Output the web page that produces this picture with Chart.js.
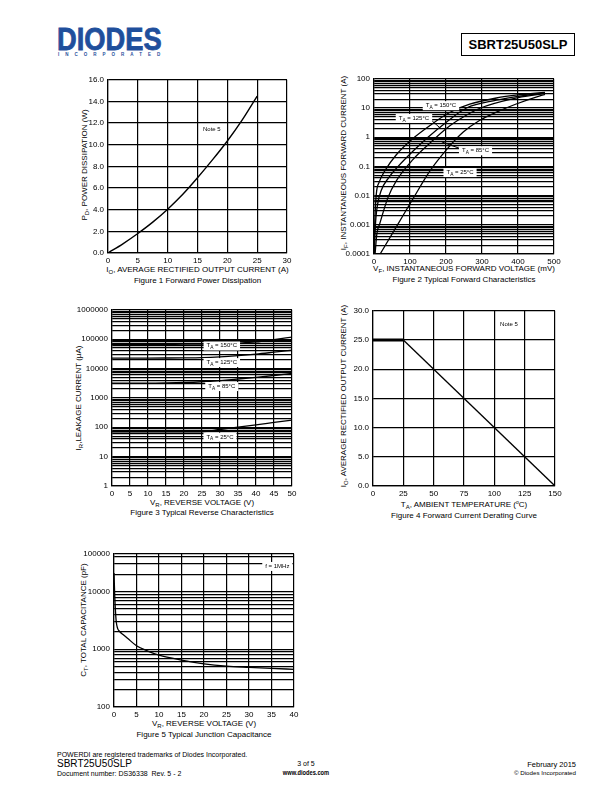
<!DOCTYPE html>
<html>
<head>
<meta charset="utf-8">
<title>SBRT25U50SLP</title>
<script src="https://cdn.jsdelivr.net/npm/chart.js@4.4.1/dist/chart.umd.min.js"></script>
<style>
	body { margin: 0; background: #fff; font-family: "Liberation Sans", Arial, sans-serif; color: #000; }
	#page { position: relative; width: 612px; height: 792px; overflow: hidden; }
	.t { position: absolute; white-space: nowrap; line-height: 1; font-size: 8px; }
	.c { transform: translateX(-50%); }
	.r90 { transform: translate(-50%, -50%) rotate(-90deg); }
	.rt { text-align: right; }
	canvas { position: absolute; }
	sub { font-size: 6px; vertical-align: -2px; line-height: 0; }
	sup { font-size: 5px; vertical-align: 3px; line-height: 0; }
	#logo { position: absolute; left: 57px; top: 24px; font-size: 31px; font-weight: bold; color: #1f4f9c; line-height: 31px; transform: scaleX(0.88); transform-origin: left top; -webkit-text-stroke: 0.8px #1f4f9c; }
	#inc { position: absolute; left: 58px; top: 53px; font-size: 4.5px; font-weight: bold; color: #1f4f9c; letter-spacing: 6px; line-height: 1; }
	#part { position: absolute; left: 461px; top: 33px; width: 112px; height: 21px; border: 1px solid #000; font-size: 13px; font-weight: bold; text-align: center; line-height: 22px; }
</style>
</head>
<body>
<div id="page">
	<div id="logo">DIODES</div>
	<div id="inc">INCORPORATED</div>
	<div id="part">SBRT25U50SLP</div>

	<!-- figure 1 -->
	<div class="t r90" style="left:85px;top:165px">P<sub>D</sub>, POWER DISSIPATION (W)</div>
	<div class="t c" style="left:197.5px;top:266px">I<sub>O</sub>, AVERAGE RECTIFIED OUTPUT CURRENT (A)</div>
	<div class="t c" style="left:197.5px;top:277px">Figure 1 Forward Power Dissipation</div>

	<!-- figure 2 -->
	<div class="t r90" style="left:344px;top:163px">I<sub>F</sub>, INSTANTANEOUS FORWARD CURRENT (A)</div>
	<div class="t c" style="left:464px;top:265px">V<sub>F</sub>, INSTANTANEOUS FORWARD VOLTAGE (mV)</div>
	<div class="t c" style="left:464px;top:275.5px">Figure 2 Typical Forward Characteristics</div>

	<!-- figure 3 -->
	<div class="t r90" style="left:79px;top:398px">I<sub>R</sub>,LEAKAGE CURRENT (μA)</div>
	<div class="t c" style="left:202px;top:499px">V<sub>R</sub>, REVERSE VOLTAGE (V)</div>
	<div class="t c" style="left:202px;top:508.5px">Figure 3 Typical Reverse Characteristics</div>

	<!-- figure 4 -->
	<div class="t r90" style="left:344px;top:396px">I<sub>O</sub>, AVERAGE RECTIFIED OUTPUT CURRENT (A)</div>
	<div class="t c" style="left:464px;top:501px">T<sub>A</sub>, AMBIENT TEMPERATURE (<sup>o</sup>C)</div>
	<div class="t c" style="left:464px;top:512px">Figure 4 Forward Current Derating Curve</div>

	<!-- figure 5 -->
	<div class="t r90" style="left:84px;top:620px">C<sub>T</sub>, TOTAL CAPACITANCE (pF)</div>
	<div class="t c" style="left:204px;top:720px">V<sub>R</sub>, REVERSE VOLTAGE (V)</div>
	<div class="t c" style="left:204px;top:731px">Figure 5 Typical Junction Capacitance</div>

	<!-- footer -->
	<div class="t" style="left:57px;top:750.5px;font-size:7px">POWERDI are registered trademarks of Diodes Incorporated.</div>
	<div class="t" style="left:57px;top:758.5px;font-size:10px">SBRT25U50SLP</div>
	<div class="t" style="left:57px;top:770px;font-size:7px">Document number: DS36338&nbsp; Rev. 5 - 2</div>
	<div class="t c" style="left:306px;top:759.5px;font-size:7px">3 of 5</div>
	<div class="t" style="left:306px;top:768.5px;font-size:7.5px;font-weight:bold;transform:translateX(-50%) scaleX(0.76)">www.diodes.com</div>
	<div class="t rt" style="right:36px;top:761px;font-size:7.5px">February 2015</div>
	<div class="t rt" style="right:36px;top:770px;font-size:6.2px">© Diodes Incorporated</div>
</div>

<script>
// Figure 1 - forward power dissipation
const fpdCurrent = [0, 2.5, 5, 7.5, 10, 12.5, 15, 17.5, 20, 22.5, 25];
const fpdPower = [0, 0.85, 1.8, 2.85, 4.05, 5.4, 6.95, 8.6, 10.35, 12.3, 14.5];

// Figure 2 - forward characteristics, VF in mV, IF in A
const vf150 = [0, 2, 6, 15, 30, 62, 108, 155, 210, 266, 340, 400, 475];
const if150 = [0.0001, 0.001, 0.01, 0.03, 0.07, 0.25, 0.9, 2.5, 7, 13.5, 22, 28, 34];
const vf125 = [1, 4, 10, 20, 40, 67, 108, 150, 200, 257, 340, 400, 470];
const if125 = [0.0001, 0.001, 0.005, 0.015, 0.04, 0.1, 0.33, 1, 3.2, 10, 18.5, 25, 32];
const vf85 = [3, 8, 16, 39, 62, 108, 155, 201, 248, 294, 387, 470];
const if85 = [0.0001, 0.0005, 0.0011, 0.0087, 0.032, 0.17, 0.62, 2.0, 4.9, 9.8, 21, 31];
const vf25 = [17, 62, 108, 155, 201, 248, 294, 340, 395, 461, 475];
const if25 = [0.0001, 0.00085, 0.0077, 0.069, 0.37, 1.5, 3.8, 7.2, 13.7, 26, 29];
const fwdTicks = [0.0001, 0.001, 0.01, 0.1, 1, 10, 100];
const fwdTickLabels = ['0.0001', '0.001', '0.01', '0.1', '1', '10', '100'];

// Figure 3 - reverse characteristics, VR in V, IR in uA
const vrLeak = [0, 5, 10, 15, 20, 25, 30, 35, 40, 45, 50];
const ir150 = [67000, 67000, 67000, 67000, 67500, 67500, 68500, 73000, 80500, 97000, 118000];
const ir125 = [22700, 22700, 22700, 22800, 23000, 23500, 25000, 27500, 31000, 36000, 42000];
const ir85 = [3200, 3200, 3200, 3250, 3350, 3550, 3900, 4400, 5000, 5800, 6800];
const ir25 = [70, 70, 70, 70, 70, 70, 84, 101, 121, 146, 176];
const revTicks = [1, 10, 100, 1000, 10000, 100000, 1000000];
const revTickLabels = ['1', '10', '100', '1000', '10000', '100000', '1000000'];

// Figure 4 - derating
const derTemp = [0, 25, 150];
const derCurrent = [25, 25, 0];

// Figure 5 - junction capacitance, VR in V, CT in pF
const capVolt = [0, 0.15, 0.3, 0.5, 0.8, 1.2, 2, 3, 5, 7.5, 10, 15, 20, 25, 30, 35, 40];
const capPf = [21000, 9000, 5000, 3000, 2300, 2050, 1800, 1550, 1150, 930, 790, 650, 560, 510, 485, 465, 450];
const capTicks = [100, 1000, 10000];
const capTickLabels = ['100', '1000', '10000'];
const capTop = 45000; // top edge of the printed axis
const capTopLabel = '100000';

const FONT = '"Liberation Sans", Arial, sans-serif';
Chart.defaults.font.family = FONT;
Chart.defaults.font.size = 8;
Chart.defaults.color = '#000';
Chart.defaults.animation = false;

const PAD_L = 40, PAD_T = 6, PAD_R = 12, PAD_B = 14;

function xy(xs, ys) {
	return xs.map((x, i) => ({x: x, y: ys[i]}));
}

function logGrid(min, max) {
	const out = [];
	for (let e = Math.floor(Math.log10(min)); e <= Math.ceil(Math.log10(max)); e++) {
		for (let m = 1; m < 10; m++) {
			const v = m * Math.pow(10, e);
			if (v >= min * 0.9999 && v <= max * 1.0001) out.push(v);
		}
	}
	if (Math.abs(out[out.length - 1] - max) > max * 0.0001) out.push(max);
	return out;
}

function findLabel(v, vals, labels) {
	for (let i = 0; i < vals.length; i++) {
		if (Math.abs(Math.log10(v) - Math.log10(vals[i])) < 1e-6) return labels[i];
	}
	return '';
}

function gridOpts() {
	return {color: '#000', lineWidth: 1.2, drawTicks: false};
}
function borderOpts() {
	return {color: '#000', width: 1.2};
}

function linX(min, max, step) {
	return {
		type: 'linear', min: min, max: max,
		grid: gridOpts(), border: borderOpts(),
		ticks: {stepSize: step, padding: 3, autoSkip: false, maxRotation: 0},
		afterFit: s => { s.height = PAD_B; }
	};
}
function linY(min, max, step) {
	return {
		type: 'linear', min: min, max: max,
		grid: gridOpts(), border: borderOpts(),
		ticks: {stepSize: step, padding: 4, autoSkip: false, callback: v => v.toFixed(1)},
		afterFit: s => { s.width = PAD_L; }
	};
}
function logY(min, max, vals, labels) {
	return {
		type: 'logarithmic', min: min, max: max,
		grid: gridOpts(), border: borderOpts(),
		afterBuildTicks: s => { s.ticks = logGrid(min, max).map(v => ({value: v})); },
		ticks: {padding: 4, autoSkip: false, callback: v => findLabel(v, vals, labels)},
		afterFit: s => { s.width = PAD_L; }
	};
}

function curve(points, width) {
	return {
		data: points, borderColor: '#000', borderWidth: width || 1.3,
		pointRadius: 0, cubicInterpolationMode: 'monotone', clip: 0, fill: false
	};
}

// small text notes with optional white box, "_X" marks a subscript letter
function drawNote(ctx, text, x, y, size, pad) {
	const parts = [];
	const bits = text.split('_');
	parts.push([bits[0], false]);
	for (let i = 1; i < bits.length; i++) {
		parts.push([bits[i].charAt(0), true]);
		parts.push([bits[i].slice(1), false]);
	}
	const fMain = size + 'px ' + FONT, fSub = (size * 0.8) + 'px ' + FONT;
	let w = 0;
	parts.forEach(p => { ctx.font = p[1] ? fSub : fMain; w += ctx.measureText(p[0]).width; });
	let cx = x - w / 2;
	if (pad !== undefined) {
		ctx.fillStyle = '#fff';
		ctx.fillRect(cx - pad, y - size * 0.7, w + 2 * pad, size * 1.5);
	}
	ctx.fillStyle = '#000';
	ctx.textBaseline = 'middle';
	ctx.textAlign = 'left';
	parts.forEach(p => {
		ctx.font = p[1] ? fSub : fMain;
		ctx.fillText(p[0], cx, y + (p[1] ? size * 0.35 : 0));
		cx += ctx.measureText(p[0]).width;
	});
}

const notesPlugin = {
	id: 'notes',
	afterDatasetsDraw(chart, args, opts) {
		const ctx = chart.ctx, xs = chart.scales.x, ys = chart.scales.y;
		ctx.save();
		(opts.arrows || []).forEach(a => {
			ctx.strokeStyle = '#000';
			ctx.lineWidth = 1;
			ctx.beginPath();
			ctx.moveTo(xs.getPixelForValue(a[0]), ys.getPixelForValue(a[1]));
			ctx.lineTo(xs.getPixelForValue(a[2]), ys.getPixelForValue(a[3]));
			ctx.stroke();
		});
		(opts.items || []).forEach(n => {
			drawNote(ctx, n.text, xs.getPixelForValue(n.x), ys.getPixelForValue(n.y), n.size || 6, n.pad);
		});
		ctx.restore();
	}
};

function makeChart(plot, datasets, scales, notes) {
	const cv = document.createElement('canvas');
	const W = plot.w + PAD_L + PAD_R, H = plot.h + PAD_T + PAD_B;
	cv.width = W;
	cv.height = H;
	cv.style.left = (plot.l - PAD_L) + 'px';
	cv.style.top = (plot.t - PAD_T) + 'px';
	cv.style.width = W + 'px';
	cv.style.height = H + 'px';
	document.getElementById('page').appendChild(cv);
	return new Chart(cv, {
		type: 'line',
		data: {datasets: datasets},
		options: {
			responsive: false,
			layout: {padding: {left: 0, top: PAD_T, right: PAD_R, bottom: 0}},
			scales: scales,
			plugins: {legend: {display: false}, tooltip: {enabled: false}, notes: notes || {}}
		},
		plugins: [notesPlugin]
	});
}

// Figure 1
makeChart({l: 108, t: 77, w: 179, h: 176},
	[curve(xy(fpdCurrent, fpdPower), 1.4)],
	{x: linX(0, 30, 5), y: linY(0, 16, 2)},
	{items: [{text: 'Note 5', x: 17.4, y: 11.4}]});

// Figure 2
makeChart({l: 374, t: 76, w: 180, h: 178},
	[curve(xy(vf150, if150)), curve(xy(vf125, if125)), curve(xy(vf85, if85)), curve(xy(vf25, if25))],
	{x: linX(0, 500, 100), y: logY(0.0001, 100, fwdTicks, fwdTickLabels)},
	{
		arrows: [[160, 3.75, 186, 1.95], [188, 0.69, 239, 0.41]],
		items: [
			{text: 'T_A = 150°C', x: 186, y: 12.3, pad: 3},
			{text: 'T_A = 125°C', x: 111, y: 4.5, pad: 3},
			{text: 'T_A = 85°C', x: 282, y: 0.35, pad: 3},
			{text: 'T_A = 25°C', x: 239, y: 0.063, pad: 3}
		]
	});

// Figure 3
makeChart({l: 112, t: 307, w: 180, h: 179},
	[curve(xy(vrLeak, ir150)), curve(xy(vrLeak, ir125)), curve(xy(vrLeak, ir85)), curve(xy(vrLeak, ir25))],
	{x: linX(0, 50, 5), y: logY(1, 1000000, revTicks, revTickLabels)},
	{
		items: [
			{text: 'T_A = 150°C', x: 30.5, y: 60000, pad: 3},
			{text: 'T_A = 125°C', x: 30.5, y: 16300, pad: 3},
			{text: 'T_A = 85°C', x: 30.5, y: 2490, pad: 3},
			{text: 'T_A = 25°C', x: 30, y: 47, pad: 3}
		]
	});

// Figure 4
const derSet = curve(xy(derTemp, derCurrent), 1.3);
derSet.cubicInterpolationMode = 'default';
derSet.tension = 0;
derSet.segment = {borderWidth: c => c.p0DataIndex === 0 ? 3 : 1.3};
makeChart({l: 373, t: 308, w: 182, h: 178},
	[derSet],
	{x: linX(0, 150, 25), y: linY(0, 30, 5)},
	{items: [{text: 'Note 5', x: 112, y: 27.6}]});

// Figure 5
const capY = logY(100, capTop, capTicks.concat([capTop]), capTickLabels.concat([capTopLabel]));
makeChart({l: 114, t: 551, w: 180, h: 156},
	[curve(xy(capVolt, capPf), 1.3)],
	{x: linX(0, 40, 5), y: capY},
	{items: [{text: 'f = 1MHz', x: 36.3, y: 27500, pad: 3}]});
</script>
</body>
</html>
